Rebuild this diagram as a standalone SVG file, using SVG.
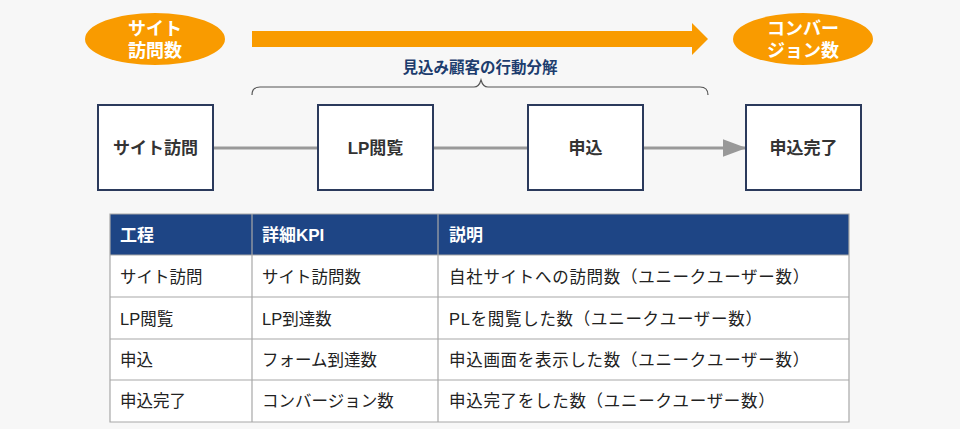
<svg xmlns="http://www.w3.org/2000/svg" width="960" height="429" viewBox="0 0 960 429">
<defs>
<style>
.t{font-family:"Liberation Sans","Noto Sans CJK JP",sans-serif}
.ell{fill:#f99b00}
.et{fill:#fff;font-size:18px;font-weight:bold;text-anchor:middle}
.box{fill:#fff;stroke:#2b3a5c;stroke-width:2}
.bt{fill:#333;font-size:17px;font-weight:bold;text-anchor:middle}
.hd{fill:#1e4585}
.ht{fill:#fff;font-size:17px;font-weight:bold}
.ct{fill:#222;font-size:16.5px}
.ds{letter-spacing:0.7px}
.grid{stroke:#a8a8a8;stroke-width:1.2;fill:none}
.conn{stroke:#999;stroke-width:3;fill:none}
</style>
<marker id="ah" markerWidth="8" markerHeight="6" refX="7.5" refY="3" orient="auto" markerUnits="strokeWidth">
<path d="M0,0 L8,3 L0,6 Z" fill="#999"/>
</marker>
</defs>
<rect width="960" height="429" fill="#f7f7f7"/>

<g id="start-ellipse" class="t">
<ellipse class="ell" cx="155" cy="39" rx="70" ry="26"/>
<text class="et" x="155" y="35">サイト</text>
<text class="et" x="155" y="57">訪問数</text>
</g>
<g id="end-ellipse" class="t">
<ellipse class="ell" cx="803" cy="39" rx="70" ry="26"/>
<text class="et" x="803" y="35">コンバー</text>
<text class="et" x="803" y="57">ジョン数</text>
</g>
<g id="big-arrow">
<path d="M252,31 H692 V23 L708,39 L692,55 V47 H252 Z" fill="#f99b00"/>
</g>
<g id="brace-label" class="t">
<text x="480" y="73" fill="#1d3d6e" font-size="15.5px" font-weight="bold" text-anchor="middle">見込み顧客の行動分解</text>
<path d="M252,95 Q252,87 260,87 H474 Q479,87 481,80 Q483,87 488,87 H700 Q708,87 708,95" fill="none" stroke="#555" stroke-width="1.2"/>
</g>

<g id="connectors">
<line class="conn" x1="213" y1="148" x2="318" y2="148"/>
<line class="conn" x1="433" y1="148" x2="528" y2="148"/>
<line class="conn" x1="643" y1="148" x2="745" y2="148" marker-end="url(#ah)"/>
</g>

<g id="node-visit" class="t">
<rect class="box" x="98" y="105" width="115" height="85"/>
<text class="bt" x="155.5" y="154">サイト訪問</text>
</g>
<g id="node-lp" class="t">
<rect class="box" x="318" y="105" width="115" height="85"/>
<text class="bt" x="375.5" y="154">LP閲覧</text>
</g>
<g id="node-apply" class="t">
<rect class="box" x="528" y="105" width="115" height="85"/>
<text class="bt" x="585.5" y="154">申込</text>
</g>
<g id="node-complete" class="t">
<rect class="box" x="746" y="105" width="115" height="85"/>
<text class="bt" x="803.5" y="154">申込完了</text>
</g>

<g id="table" class="t">
<rect x="110" y="214" width="739" height="208" fill="#fff"/>
<rect class="hd" x="110" y="214" width="739" height="41"/>
<path class="grid" d="M110,214 H849 V422 H110 Z M110,255 H849 M110,297 H849 M110,339 H849 M110,380 H849 M252,214 V422 M438,214 V422"/>
<text class="ht" x="120" y="241">工程</text>
<text class="ht" x="262" y="241">詳細KPI</text>
<text class="ht" x="449" y="241">説明</text>

<text class="ct" x="120" y="283">サイト訪問</text>
<text class="ct" x="262" y="283">サイト訪問数</text>
<text class="ct ds" x="449" y="283">自社サイトへの訪問数（ユニークユーザー数）</text>

<text class="ct" x="120" y="325">LP閲覧</text>
<text class="ct" x="262" y="325">LP到達数</text>
<text class="ct ds" x="449" y="325">PLを閲覧した数（ユニークユーザー数）</text>

<text class="ct" x="120" y="366">申込</text>
<text class="ct" x="262" y="366">フォーム到達数</text>
<text class="ct ds" x="449" y="366">申込画面を表示した数（ユニークユーザー数）</text>

<text class="ct" x="120" y="407">申込完了</text>
<text class="ct" x="262" y="407">コンバージョン数</text>
<text class="ct ds" x="449" y="407">申込完了をした数（ユニークユーザー数）</text>
</g>
</svg>
